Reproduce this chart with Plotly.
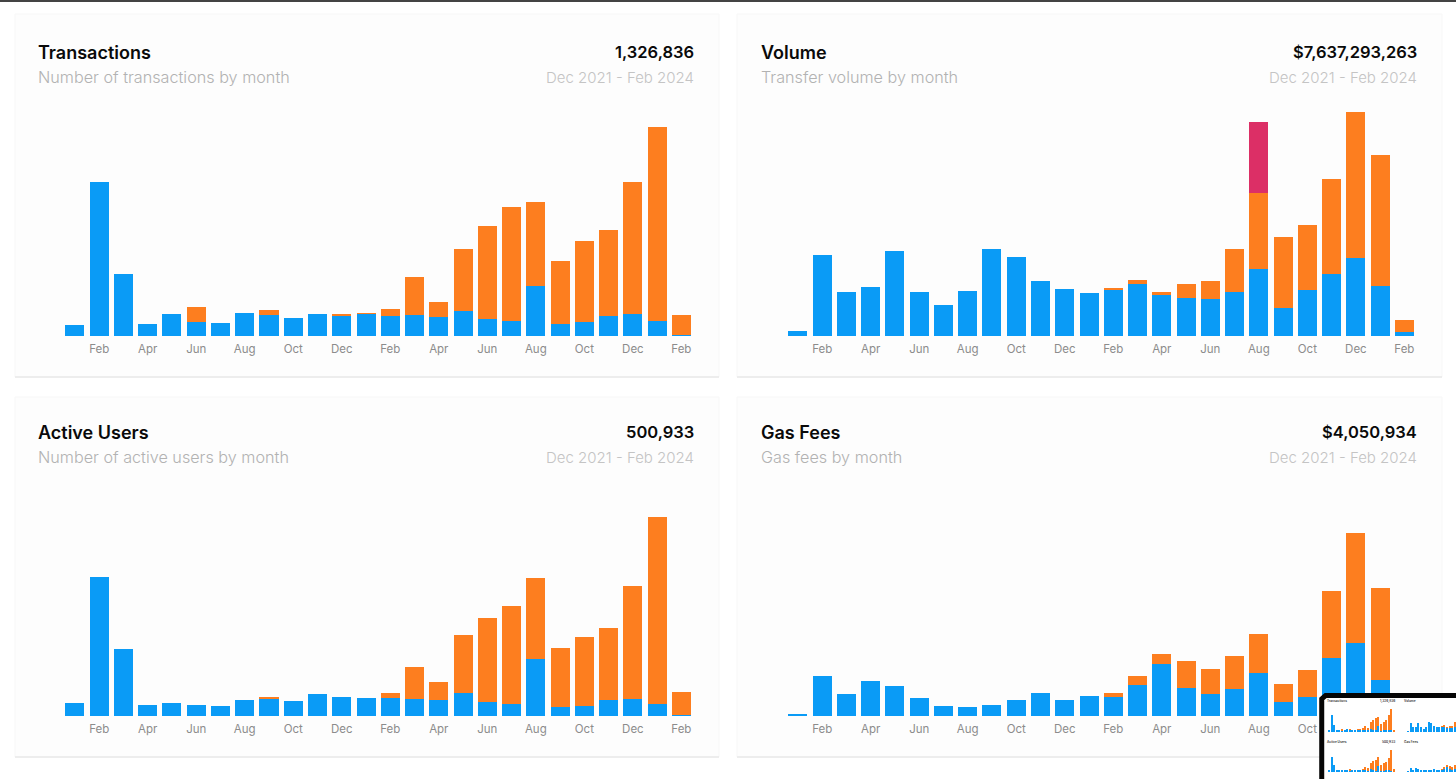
import plotly.graph_objects as go

MONTHS = ["Jan 22","Feb 22","Mar 22","Apr 22","May 22","Jun 22","Jul 22","Aug 22","Sep 22","Oct 22","Nov 22","Dec 22",
          "Jan 23","Feb 23","Mar 23","Apr 23","May 23","Jun 23","Jul 23","Aug 23","Sep 23","Oct 23","Nov 23","Dec 23",
          "Jan 24","Feb 24"]
TICK_MONTHS = MONTHS[1::2]
TICK_LABELS = [m[:3] for m in TICK_MONTHS]

# Transactions, thousands
tx_blue = [8.8,123.2,49.6,9.6,17.6,11.2,10.4,18.4,16.8,14.4,17.6,16,17.6,16,16.8,15.2,20,13.6,12,40,9.6,11.2,16,17.6,12,0.8]
tx_orange = [0,0,0,0,0,12,0,0,4,0,0,1.2,0.8,5.6,30.4,12,49.6,74.4,91.2,67.2,50.4,64.8,68.8,105.6,155.2,16]
tx_red = [0]*26
# Volume, $ millions
vol_blue = [18.8,303.8,165,183.8,318.8,165,116.3,168.8,326.3,296.3,206.3,176.3,161.3,172.5,195,153.8,142.5,138.8,165,251.3,105,172.5,232.5,292.5,187.5,15]
vol_orange = [0,0,0,0,0,0,0,0,0,0,0,0,0,3.8,15,11.3,52.5,67.5,161.3,285,266.3,243.8,356.3,547.5,491.3,45]
vol_red = [0,0,0,0,0,0,0,0,0,0,0,0,0,0,0,0,0,0,0,266.3,0,0,0,0,0,0]
# Active users, thousands
au_blue = [4.3,46.3,22.3,3.7,4.3,3.7,3.3,5.3,5.7,5,7.3,6.3,6,6,5.7,5.3,7.7,4.7,4,19,3,3.3,5.3,5.7,4,0.3]
au_orange = [0,0,0,0,0,0,0,0,0.7,0,0,0,0,1.7,10.7,6,19.3,28,32.7,27,19.7,23,24,37.7,62.3,7.7]
au_red = [0]*26
# Gas fees, $ thousands
gas_blue = [7,140,77,122.5,105,63,35,31.5,38.5,56,80.5,56,70,66.5,108.5,182,98,77,94.5,150.5,49,66.5,203,255.5,126,10.5]
gas_orange = [0,0,0,0,0,0,0,0,0,0,0,0,0,14,31.5,35,94.5,87.5,115.5,136.5,63,94.5,234.5,385,322,35]
gas_red = [0]*26

TITLES = ["Transactions","Volume","Active Users","Gas Fees"]
SUBTITLES = ["Number of transactions by month","Transfer volume by month","Number of active users by month","Gas fees by month"]
TOTALS = ["1,326,836","$7,637,293,263","500,933","$4,050,934"]
PERIOD = "Dec 2021 - Feb 2024"
AXIS_MAX = [188.8, 885, 78.67, 826]
SERIES = [(tx_blue,tx_orange,tx_red),(vol_blue,vol_orange,vol_red),(au_blue,au_orange,au_red),(gas_blue,gas_orange,gas_red)]

BLUE, ORANGE, RED = "#0a9bf6", "#fd7e1f", "#dc2f66"
W, H = 1456, 779
FONT = "Inter"

def px(x0, x1): return [x0 / W, min(x1 / W, 1)]
def py(y0, y1): return [1 - y1 / H, 1 - y0 / H]   # y0 top, y1 bottom

fig = go.Figure()
layout = dict(
    width=W, height=H, margin=dict(l=0, r=0, t=0, b=0), autosize=False,
    paper_bgcolor="white", plot_bgcolor="rgba(0,0,0,0)", showlegend=False,
    barmode="stack", bargap=0.216, font=dict(family=FONT), shapes=[], annotations=[],
)

def add_bars(idx, ser):
    ax = "" if idx == 1 else str(idx)
    for vals, col in zip(ser, (BLUE, ORANGE, RED)):
        fig.add_trace(go.Bar(x=MONTHS, y=vals, marker=dict(color=col, line=dict(width=0)),
                             xaxis="x" + ax, yaxis="y" + ax, hoverinfo="skip"))

def text(x, y, s, size, color, anchor="left", weight=400, shift=0):
    layout["annotations"].append(dict(
        xref="paper", yref="paper", x=x / W, y=1 - y / H, text=s, showarrow=False,
        xanchor=anchor, yanchor="middle", xshift=shift, yshift=0, borderpad=0,
        font=dict(size=size, color=color, family=FONT, weight=weight)))

# Cards and top rule
layout["shapes"].append(dict(type="rect", xref="paper", yref="paper", x0=0, x1=1, y0=1 - 2 / H, y1=1,
                             fillcolor="#444444", line_width=0, layer="below"))
CARDS = [(15, 14, 719, 377), (737, 14, 1442, 377), (15, 397, 719, 757), (737, 397, 1442, 757)]
for x0, y0, x1, y1 in CARDS:
    layout["shapes"].append(dict(type="rect", xref="paper", yref="paper", x0=x0 / W, x1=x1 / W,
                                 y0=1 - y1 / H, y1=1 - y0 / H, fillcolor="#fdfdfd",
                                 line=dict(color="#f7f7f7", width=1), layer="below"))
    layout["shapes"].append(dict(type="line", xref="paper", yref="paper", x0=x0 / W, x1=x1 / W,
                                 y0=1 - y1 / H, y1=1 - y1 / H, line=dict(color="#e8e8e8", width=1.5), layer="below"))

# Main charts
FRAMES = [(62.8, 693.5, 100, 336), (785.8, 1416.5, 100, 336), (62.8, 693.5, 480, 716), (785.8, 1416.5, 480, 716)]
HEAD = [(38, 693, 52, 77), (761, 1416, 52, 77), (38, 693, 432, 457), (761, 1416, 432, 457)]
for i, (ser, fr, hd) in enumerate(zip(SERIES, FRAMES, HEAD)):
    n = i + 1
    add_bars(n, ser)
    sfx = "" if n == 1 else str(n)
    layout["xaxis" + sfx] = dict(domain=px(fr[0], fr[1]), anchor="y" + sfx, type="category",
                                 categoryorder="array", categoryarray=MONTHS, range=[-0.5, 25.5],
                                 tickmode="array", tickvals=TICK_MONTHS, ticktext=TICK_LABELS, tickangle=0,
                                 showgrid=False, showline=False, zeroline=False, ticks="", ticklabelstandoff=4,
                                 tickfont=dict(size=11.5, color="#8c8c8c", family=FONT))
    layout["yaxis" + sfx] = dict(domain=py(fr[2], fr[3]), anchor="x" + sfx, range=[0, AXIS_MAX[i]],
                                 visible=False, fixedrange=True)
    text(hd[0], hd[2], TITLES[i], 18, "#0a0a0a", "left", 600, shift=-1.5)
    text(hd[1], hd[2], TOTALS[i], 16.5, "#0a0a0a", "right", 600, shift=1.5)
    text(hd[0], hd[3], SUBTITLES[i], 16.2, "#b2b2b2", "left", 300, shift=-1.5)
    text(hd[1], hd[3], PERIOD, 15, "#c4c4c4", "right", 300, shift=1.5)

# Thumbnail overlay panel (bottom right)
fig.add_trace(go.Scatter(x=[0.027, 0.027, 0.055, 1.1, 1.1, 0.027], y=[-0.1, 0.90, 0.9375, 0.9375, -0.1, -0.1],
                         mode="lines", fill="toself", fillcolor="white", line=dict(color="#050505", width=5),
                         xaxis="x5", yaxis="y5", hoverinfo="skip"))
layout["xaxis5"] = dict(domain=px(1318, 1456), anchor="y5", range=[0, 1], visible=False)
layout["yaxis5"] = dict(domain=py(690, 779), anchor="x5", range=[0, 1], visible=False)

MINI_SCALE = 0.11
SPACING = 2.6
MINI = [(1327.7, 732), (1406.7, 732), (1327.7, 772), (1406.7, 772)]
MINI_HEAD = [(1326, 1396, 701, 705), (1403, 1475, 701, 705), (1326, 1396, 742, 746), (1403, 1475, 742, 746)]
for i, (ser, (x0, base), hd) in enumerate(zip(SERIES, MINI, MINI_HEAD)):
    n = i + 6
    add_bars(n, ser)
    x1 = x0 + 26 * SPACING
    end = 25.5 if x1 <= W else (W - x0) / SPACING - 0.5
    x1 = min(x1, W)
    layout[f"xaxis{n}"] = dict(domain=px(x0, x1), anchor=f"y{n}", type="category", categoryorder="array",
                               categoryarray=MONTHS, range=[-0.5, end], visible=False)
    layout[f"yaxis{n}"] = dict(domain=py(base - 236 * MINI_SCALE, base), anchor=f"x{n}",
                               range=[0, AXIS_MAX[i]], visible=False)
    text(hd[0], hd[2], TITLES[i], 3.2, "#333333", "left", 600)
    if hd[1] < W:
        text(hd[1], hd[2], TOTALS[i], 3.2, "#333333", "right", 600)

fig.update_layout(**layout)
fig.write_html("out.html", config={"displayModeBar": False},
               post_script="document.body.style.margin='0';document.body.style.overflow='hidden';window.dispatchEvent(new Event('resize'));")
